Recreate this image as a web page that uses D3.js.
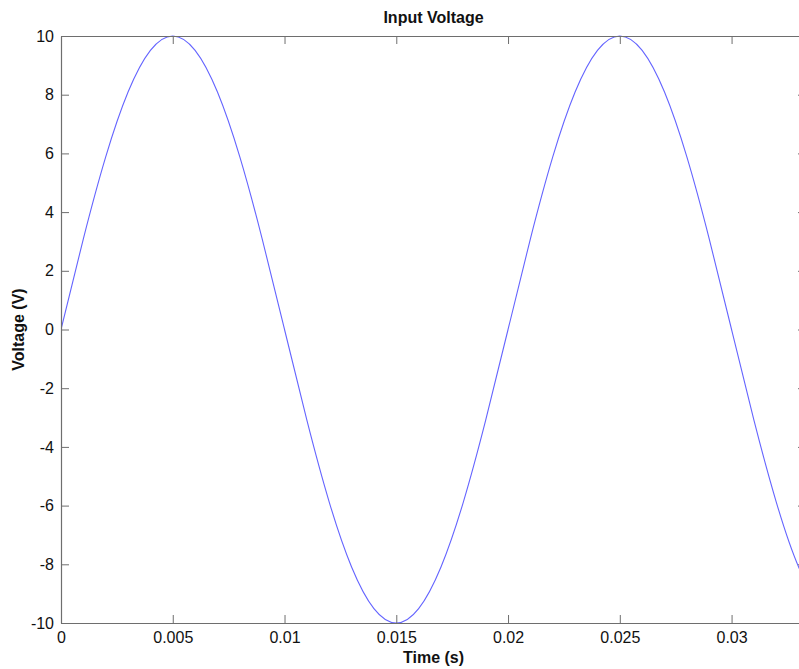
<!DOCTYPE html>
<html>
<head>
<meta charset="utf-8">
<script src="https://cdn.jsdelivr.net/npm/d3@7"></script>
<style>
  html, body { margin: 0; padding: 0; background: #fff; }
  svg { display: block; font-family: "Liberation Sans", Arial, Helvetica, sans-serif; }
</style>
</head>
<body>
<svg id="chart" width="799" height="669"></svg>
<script>
// ---- data ----
const times = [0, 0.001, 0.002, 0.003, 0.004, 0.005, 0.006, 0.007, 0.008, 0.009,
               0.010, 0.011, 0.012, 0.013, 0.014, 0.015, 0.016, 0.017, 0.018, 0.019,
               0.020, 0.021, 0.022, 0.023, 0.024, 0.025, 0.026, 0.027, 0.028, 0.029,
               0.030, 0.031, 0.032, 0.033, 0.034];
const voltages = [0, 3.09, 5.88, 8.09, 9.51, 10, 9.51, 8.09, 5.88, 3.09,
                  0, -3.09, -5.88, -8.09, -9.51, -10, -9.51, -8.09, -5.88, -3.09,
                  0, 3.09, 5.88, 8.09, 9.51, 10, 9.51, 8.09, 5.88, 3.09,
                  0, -3.09, -5.88, -8.09, -9.51];
const xTicks = [0, 0.005, 0.01, 0.015, 0.02, 0.025, 0.03];
const xTickLabels = ["0", "0.005", "0.01", "0.015", "0.02", "0.025", "0.03"];
const yTicks = [-10, -8, -6, -4, -2, 0, 2, 4, 6, 8, 10];
const yTickLabels = ["-10", "-8", "-6", "-4", "-2", "0", "2", "4", "6", "8", "10"];
const xDomain = [0, 0.03333];
const yDomain = [-10, 10];
const titleText = "Input Voltage";
const xLabelText = "Time (s)";
const yLabelText = "Voltage (V)";

(function () {
// ---- layout ----
const svg = d3.select("#chart");
const pLeft = 61, pTop = 36, pRight = 806, pBottom = 623;
const x = d3.scaleLinear().domain(xDomain).range([pLeft, pRight]);
const y = d3.scaleLinear().domain(yDomain).range([pBottom, pTop]);
const axisColor = "#6e6e6e";
const tickLen = 8;

svg.append("defs").append("clipPath").attr("id", "clip")
  .append("rect").attr("x", pLeft).attr("y", pTop - 2)
  .attr("width", pRight - pLeft).attr("height", pBottom - pTop + 4);

// line
const data = times.map((t, i) => ({ t: t, v: voltages[i] }));
const line = d3.line().x(d => x(d.t)).y(d => y(d.v)).curve(d3.curveNatural);
svg.append("path")
  .datum(data)
  .attr("clip-path", "url(#clip)")
  .attr("fill", "none")
  .attr("stroke", "#6464ff")
  .attr("stroke-width", 1.1)
  .attr("d", line);

// axes (MATLAB-style box with inward ticks)
function styleAxis(g) {
  g.select(".domain").attr("stroke", axisColor).attr("stroke-width", 1.2);
  g.selectAll(".tick line").attr("stroke", axisColor).attr("stroke-width", 1);
}
const xFmt = (d) => xTickLabels[xTicks.indexOf(d)];
const yFmt = (d) => yTickLabels[yTicks.indexOf(d)];

const gBottom = svg.append("g").attr("transform", `translate(0,${pBottom})`)
  .call(d3.axisBottom(x).tickValues(xTicks).tickFormat(xFmt).tickSizeInner(-tickLen).tickSizeOuter(0).tickPadding(9));
styleAxis(gBottom);
gBottom.selectAll(".tick text").attr("font-size", 16).attr("fill", "#111")
  .attr("font-family", "'Liberation Sans', Arial, sans-serif");

const gTop = svg.append("g").attr("transform", `translate(0,${pTop})`)
  .call(d3.axisTop(x).tickValues(xTicks).tickFormat("").tickSizeInner(-tickLen).tickSizeOuter(0));
styleAxis(gTop);

const gLeft = svg.append("g").attr("transform", `translate(${pLeft},0)`)
  .call(d3.axisLeft(y).tickValues(yTicks).tickFormat(yFmt).tickSizeInner(-tickLen).tickSizeOuter(0).tickPadding(7));
styleAxis(gLeft);
gLeft.selectAll(".tick text").attr("font-size", 16).attr("fill", "#111")
  .attr("font-family", "'Liberation Sans', Arial, sans-serif");

const gRight = svg.append("g").attr("transform", `translate(${pRight},0)`)
  .call(d3.axisRight(y).tickValues(yTicks).tickFormat("").tickSizeInner(-tickLen).tickSizeOuter(0));
styleAxis(gRight);

// titles
const cx = (pLeft + pRight) / 2;
svg.append("text").attr("x", cx).attr("y", 22.5)
  .attr("text-anchor", "middle").attr("font-size", 16).attr("font-weight", "bold")
  .attr("fill", "#111").text(titleText);
svg.append("text").attr("x", cx).attr("y", 663)
  .attr("text-anchor", "middle").attr("font-size", 16).attr("font-weight", "bold")
  .attr("fill", "#111").text(xLabelText);
svg.append("text")
  .attr("transform", `translate(24,${(pTop + pBottom) / 2}) rotate(-90)`)
  .attr("text-anchor", "middle").attr("font-size", 16).attr("font-weight", "bold")
  .attr("fill", "#111").text(yLabelText);
})();
</script>
</body>
</html>
